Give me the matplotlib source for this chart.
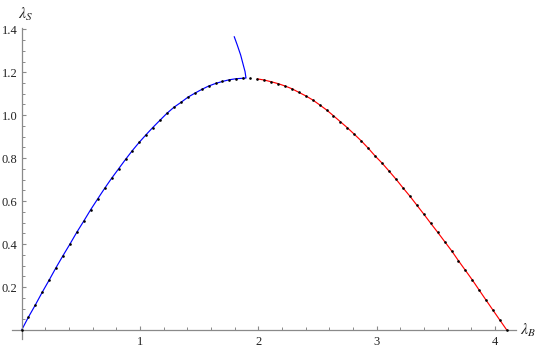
import matplotlib
matplotlib.use("Agg")
import matplotlib.pyplot as plt
from matplotlib.ticker import MultipleLocator, FixedLocator

plt.rcParams['mathtext.fontset'] = 'stix'
plt.rcParams['font.family'] = ['Liberation Serif', 'DejaVu Serif']

# Blue branch (dots + line), from origin to the maximum
blue_x = [0.000, 0.056, 0.115, 0.174, 0.233, 0.290, 0.349, 0.408, 0.467, 0.527,
          0.583, 0.642, 0.702, 0.761, 0.820, 0.879, 0.935, 0.994, 1.051, 1.107,
          1.168, 1.228, 1.287, 1.347, 1.403, 1.462, 1.522, 1.581, 1.640, 1.696,
          1.755, 1.814, 1.873]
blue_y = [0.000, 0.059, 0.116, 0.176, 0.233, 0.290, 0.346, 0.400, 0.456, 0.509,
          0.560, 0.610, 0.660, 0.707, 0.751, 0.795, 0.835, 0.874, 0.909, 0.942,
          0.976, 1.009, 1.037, 1.060, 1.083, 1.102, 1.120, 1.136, 1.148, 1.157,
          1.165, 1.170, 1.172]

# Blue upward spur (line only), starting where the blue line ends
spur_x = [1.873, 1.896, 1.888, 1.873, 1.851, 1.822, 1.797]
spur_y = [1.172, 1.173, 1.203, 1.234, 1.280, 1.327, 1.365]

# Isolated dot between the branches
mid_x = [1.930]
mid_y = [1.172]

# Red branch (dots + line)
red_x = [1.992, 2.048, 2.107, 2.167, 2.226, 2.285, 2.344, 2.401, 2.460, 2.519,
         2.578, 2.634, 2.693, 2.752, 2.812, 2.871, 2.930, 2.986, 3.046, 3.105,
         3.164, 3.221, 3.280, 3.339, 3.398, 3.457, 3.516, 3.576, 3.635, 3.691,
         3.750, 3.809, 3.868, 3.925, 3.984, 4.043, 4.100]
red_y = [1.169, 1.164, 1.156, 1.147, 1.136, 1.123, 1.106, 1.090, 1.071, 1.048,
         1.024, 0.998, 0.970, 0.942, 0.911, 0.880, 0.846, 0.811, 0.777, 0.740,
         0.702, 0.663, 0.624, 0.582, 0.540, 0.497, 0.455, 0.411, 0.368, 0.323,
         0.278, 0.233, 0.185, 0.139, 0.092, 0.045, 0.000]

x_major = [1, 2, 3, 4]
y_major = [0.2, 0.4, 0.6, 0.8, 1.0, 1.2, 1.4]

fig = plt.figure(figsize=(5.45, 3.5), dpi=100)
ax = fig.add_axes([0.0213, 0.0326, 0.9259, 0.8868])
ax.set_xlim(-0.085, 4.18)
ax.set_ylim(-0.04, 1.405)

ax.plot(blue_x, blue_y, color=(0, 0, 1), lw=0.85, zorder=2)
ax.plot(spur_x, spur_y, color=(0, 0, 1), lw=0.85, zorder=2)
ax.plot(red_x, red_y, color=(1, 0, 0), lw=0.85, zorder=2)
dots_x = blue_x + mid_x + red_x
dots_y = blue_y + mid_y + red_y
ax.plot(dots_x, dots_y, ls='none', marker='o', ms=1.9, mew=0, color='black', zorder=3)

for s in ['top', 'right']:
    ax.spines[s].set_visible(False)
for s in ['left', 'bottom']:
    ax.spines[s].set_position(('data', 0))
    ax.spines[s].set_color('#8a8a8a')
    ax.spines[s].set_linewidth(0.9)

ax.xaxis.set_major_locator(FixedLocator(x_major))
ax.xaxis.set_minor_locator(MultipleLocator(0.2))
ax.yaxis.set_major_locator(FixedLocator(y_major))
ax.yaxis.set_minor_locator(MultipleLocator(0.05))
ax.set_xticklabels([str(v) for v in x_major], fontfamily='Liberation Serif')
ax.set_yticklabels([f"{v:.1f}" for v in y_major], fontfamily='Liberation Serif')

ax.tick_params(axis='both', which='major', direction='in', length=3.2, width=0.8,
               color='#8a8a8a', labelsize=9, labelcolor='#222222')
ax.tick_params(axis='both', which='minor', direction='in', length=2, width=0.7,
               color='#8a8a8a')
ax.tick_params(axis='x', which='major', pad=4)
ax.tick_params(axis='y', which='major', pad=3)

ax.text(0.035, 1.47, r'$\lambda_S$', fontsize=11.5, ha='center', va='center',
        color='#222222', clip_on=False)
ax.text(4.21, 0.0, r'$\lambda_B$', fontsize=11.5, ha='left', va='center',
        color='#222222', clip_on=False)

fig.savefig('out.png', dpi=100)
